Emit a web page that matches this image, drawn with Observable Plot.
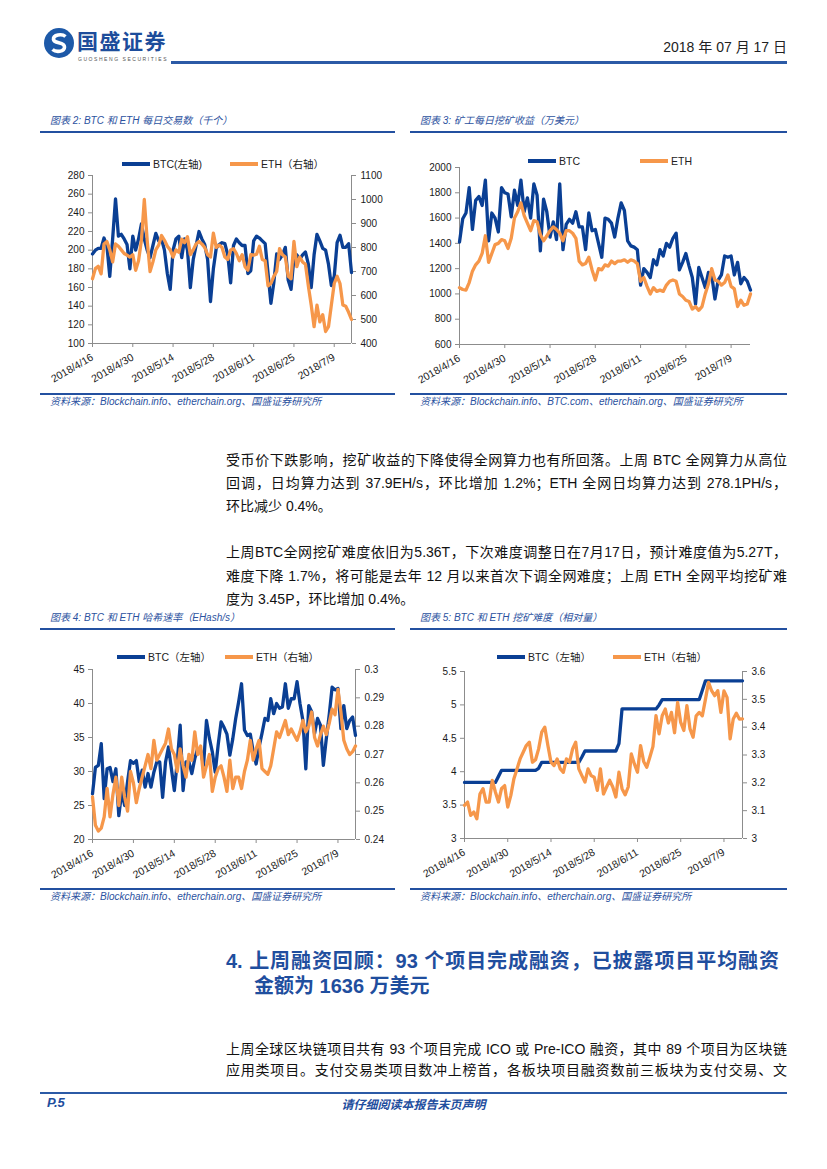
<!DOCTYPE html>
<html><head><meta charset="utf-8">
<script src="https://cdn.jsdelivr.net/npm/d3@7"></script>
<script src="https://cdn.jsdelivr.net/npm/@observablehq/plot@0.6"></script>
<style>
body{margin:0;background:#fff;}
#page{position:relative;width:827px;height:1169px;overflow:hidden;background:#fff;font-family:"Liberation Sans","Noto Sans CJK SC",sans-serif;}
.abs{position:absolute;white-space:nowrap;}
.title{position:absolute;font-style:italic;font-size:10px;line-height:12px;color:#2c52a0;white-space:nowrap;font-family:"Liberation Sans","Noto Sans CJK SC",sans-serif;}
.rule{position:absolute;background:#2350a0;}
.legend{position:absolute;font-size:10.5px;line-height:12px;color:#222;white-space:nowrap;display:flex;align-items:center;font-family:"Liberation Sans","Noto Sans CJK SC",sans-serif;}
.sw{display:inline-block;width:28px;height:3.5px;margin-right:3px;}
.ln{position:absolute;left:226px;width:561px;font-size:14px;line-height:23px;height:23px;color:#111;font-family:"Liberation Sans","Noto Sans CJK SC",sans-serif;}
.j{text-align:justify;text-align-last:justify;}
.hd{position:absolute;font-size:20px;line-height:25px;font-weight:700;color:#1f4e9e;white-space:nowrap;font-family:"Liberation Sans","Noto Sans CJK SC",sans-serif;}
</style></head>
<body><div id="page"></div>
<script>
// ---------- data ----------
const xTickLabels = ["2018/4/16","2018/4/30","2018/5/14","2018/5/28","2018/6/11","2018/6/25","2018/7/9"];

// Chart 2: daily transactions (thousand)
const btcTx = [196,200,202,202,213,205,172,212,255,215, 217,212,206,180,215,200,212,228,212,200, 192,205,218,210,212,200,175,158,200,212, 215,192,212,200,160,190,205,220,212,206, 190,145,180,202,206,208,207,195,165,205, 212,208,205,205,175,178,210,215,213,210, 207,175,143,165,196,190,195,203,168,158, 192,195,190,195,198,185,160,195,217,210, 202,200,185,162,172,208,216,203,203,207, 176];
const ethTx = [670,712,722,690,815,825,790,740,815,805, 790,775,768,760,770,705,745,830,1000,830, 700,740,790,810,850,830,805,790,760,790, 780,835,820,845,770,790,815,825,815,800, 770,760,860,800,810,800,760,750,790,795, 775,745,770,720,705,770,768,772,805,750, 745,640,650,680,700,795,770,760,680,670, 825,720,760,740,730,640,560,470,560,490, 520,450,470,560,650,680,650,560,555,530, 500];
const txLeftTicks = [100,120,140,160,180,200,220,240,260,280];
const txRightTicks = [400,500,600,700,800,900,1000,1100];

// Chart 3: daily mining revenue (10k USD)
const btcRev = [1410,1595,1640,1840,1510,1740,1770,1700,1900,1420, 1640,1600,1490,1840,1800,1790,1610,1820,1700,1900, 1650,1760,1600,1870,1780,1340,1750,1650,1450,1570, 1430,1870,1350,1550,1590,1560,1650,1530,1530,1350, 1640,1500,1510,1400,1290,1600,1590,1560,1450,1600, 1720,1660,1420,1380,1370,1350,1070,1200,1170,1130, 1270,1230,1350,1300,1400,1370,1440,1480,1190,1250, 1320,1220,1130,920,1210,1130,1050,1170,1150,960, 1110,1150,1300,1290,1300,1150,1250,1080,1130,1100, 1030];
const ethRev = [1050,1035,1030,1090,1180,1230,1260,1320,1460,1250, 1320,1390,1400,1430,1420,1360,1440,1600,1650,1720, 1620,1560,1500,1580,1570,1470,1420,1460,1500,1530, 1510,1480,1420,1500,1500,1480,1440,1260,1230,1240, 1290,1190,1110,1200,1190,1230,1220,1260,1240,1260, 1260,1270,1250,1270,1260,1240,1100,1130,1060,1000, 1050,1020,1030,1020,1070,1100,1110,1100,1000,980, 950,940,880,900,870,900,1000,1080,1200,1110, 1100,1070,1090,1150,1060,1040,900,950,910,920, 1000];
const revTicks = [600,800,1000,1200,1400,1600,1800,2000];

// Chart 4: hash rate
const btcHash = [26.7,30.6,30.9,34.1,26.0,30.4,30.6,28.5,30.4,23.5, 27.0,25.0,28.5,31.6,31.2,31.6,28.5,30.2,27.7,29.7, 27.7,29.9,31.4,31.4,26.2,31.4,33.6,30.4,27.2,31.4, 36.8,27.2,31.4,31.4,29.7,31.9,33.4,33.1,30.9,37.5, 34.9,32.9,29.9,33.9,37.3,36.5,35.5,32.4,34.8,37.8, 40.2,42.9,36.1,35.3,35.5,32.9,31.1,33.6,35.6,37.8, 37.5,40.7,38.5,40.0,39.3,39.5,42.9,39.3,40.7,40.7, 43.2,40.0,37.5,30.4,39.7,38.8,35.6,37.8,36.8,30.9, 34.8,38.3,42.4,42.0,42.2,36.3,39.7,36.3,37.5,38.0, 35.3];
const ethHash = [0.255,0.245,0.243,0.244,0.248,0.258,0.248,0.256,0.262,0.252, 0.262,0.255,0.250,0.264,0.260,0.253,0.258,0.262,0.266,0.270, 0.265,0.275,0.268,0.270,0.272,0.274,0.279,0.272,0.270,0.264, 0.272,0.266,0.262,0.270,0.268,0.278,0.270,0.273,0.262,0.266, 0.270,0.257,0.262,0.265,0.266,0.262,0.257,0.268,0.258,0.262, 0.262,0.258,0.264,0.268,0.275,0.268,0.272,0.275,0.265,0.264, 0.263,0.266,0.272,0.278,0.276,0.279,0.282,0.277,0.279,0.277, 0.275,0.278,0.282,0.278,0.280,0.285,0.276,0.273,0.277,0.280, 0.277,0.281,0.286,0.284,0.293,0.285,0.275,0.272,0.270,0.271, 0.273];
const hashLeftTicks = [20,25,30,35,40,45];
const hashRightTicks = [0.24,0.25,0.26,0.27,0.28,0.29,0.30];

// Chart 5: difficulty
const btcDiff = [3.84,3.84,3.84,3.84,3.84,3.84,3.84,3.84,3.84,3.84, 3.84,3.93,4.02,4.02,4.02,4.02,4.02,4.02,4.02,4.02, 4.02,4.02,4.02,4.02,4.05,4.14,4.14,4.14,4.14,4.14, 4.14,4.14,4.14,4.14,4.14,4.14,4.14,4.14,4.22,4.31, 4.31,4.31,4.31,4.31,4.31,4.31,4.31,4.31,4.31,4.31, 4.42,4.94,4.94,4.94,4.94,4.94,4.94,4.94,4.94,4.94, 4.94,4.94,4.94,5.00,5.08,5.08,5.08,5.08,5.08,5.08, 5.08,5.08,5.08,5.08,5.08,5.08,5.08,5.22,5.36,5.36, 5.36,5.36,5.36,5.36,5.36,5.36,5.36,5.36,5.36,5.36, 5.36];
const ethDiff = [3.119,3.131,3.083,3.095,3.071,3.160,3.179,3.131,3.131,3.209, 3.167,3.131,3.180,3.190,3.113,3.155,3.215,3.250,3.286,3.310, 3.334,3.346,3.274,3.283,3.322,3.382,3.400,3.334,3.274,3.262, 3.286,3.250,3.238,3.286,3.274,3.322,3.346,3.250,3.226,3.203, 3.250,3.226,3.220,3.173,3.250,3.160,3.185,3.209,3.185,3.149, 3.238,3.179,3.157,3.185,3.304,3.268,3.238,3.334,3.277,3.256, 3.292,3.330,3.441,3.376,3.441,3.465,3.415,3.453,3.380,3.489, 3.417,3.388,3.477,3.394,3.364,3.441,3.453,3.441,3.500,3.561, 3.531,3.513,3.531,3.453,3.530,3.507,3.358,3.429,3.450,3.429, 3.430];
const diffLeftTicks = [3,3.5,4,4.5,5,5.5];
const diffRightTicks = [3.0,3.1,3.2,3.3,3.4,3.5,3.6];

// ---------- page ----------
const BLUE = "#0a3f94", ORANGE = "#f6974a", AXIS = "#8c8c8c";
const page = document.getElementById("page");
function add(html){ page.insertAdjacentHTML("beforeend", html); }

// header
add(`<svg class="abs" style="left:43px;top:27px" width="32" height="32" viewBox="0 0 32 32">
<circle cx="16" cy="16" r="15" fill="#1d59a8"/>
<path d="M22.5 9.5 C19 6.5 10 7.5 10.5 12.5 C11 17 21.5 14.5 21.5 20 C21.5 25 13 25.5 9.5 22.5" fill="none" stroke="#fff" stroke-width="3.6"/>
</svg>`);
add(`<div class="abs" style="left:77px;top:28px;font-size:21px;line-height:24px;font-weight:700;color:#1d4d9b;font-family:'Noto Sans CJK SC';letter-spacing:1.5px">国盛证券</div>`);
add(`<div class="abs" style="left:78px;top:56px;font-size:5px;line-height:6px;color:#555;letter-spacing:1.55px">GUOSHENG SECURITIES</div>`);
add(`<div class="abs" style="right:40px;top:38px;font-size:14px;line-height:18px;color:#222;font-family:'Liberation Sans Narrow','Liberation Sans','Noto Sans CJK SC'">2018 年 07 月 17 日</div>`);
add(`<div class="rule" style="left:171px;top:61px;width:616px;height:2.5px;background:#2b5aa6"></div>`);

// chart frames: titles, rules, sources, legends
function frame(x, w, titleY, title, srcY, src){
  add(`<div class="title" style="left:${x+10}px;top:${titleY-6}px">${title}</div>`);
  add(`<div class="rule" style="left:${x}px;top:${titleY+10}px;width:${w}px;height:1.5px"></div>`);
  add(`<div class="rule" style="left:${x}px;top:${srcY-9}px;width:${w}px;height:1.5px"></div>`);
  add(`<div class="title" style="left:${x+10}px;top:${srcY-6}px">${src}</div>`);
}
function legend(y, items){
  for (const [x, color, label] of items)
    add(`<div class="legend" style="left:${x}px;top:${y-6}px"><span class="sw" style="background:${color}"></span>${label}</div>`);
}
const src1 = "资料来源：Blockchain.info、etherchain.org、国盛证券研究所";
frame(40, 355, 121, "图表 2: BTC 和 ETH 每日交易数（千个）", 402, src1);
frame(410, 377, 121, "图表 3: 矿工每日挖矿收益（万美元）", 402, "资料来源：Blockchain.info、BTC.com、etherchain.org、国盛证券研究所");
frame(40, 355, 618, "图表 4: BTC 和 ETH 哈希速率（EHash/s）", 897, src1);
frame(410, 377, 618, "图表 5: BTC 和 ETH 挖矿难度（相对量）", 897, src1);
legend(164, [[122, BLUE, "BTC(左轴)"], [230, ORANGE, "ETH（右轴）"]]);
legend(161, [[528, BLUE, "BTC"], [640, ORANGE, "ETH"]]);
legend(657, [[117, BLUE, "BTC（左轴）"], [225, ORANGE, "ETH（右轴）"]]);
legend(657, [[497, BLUE, "BTC（左轴）"], [613, ORANGE, "ETH（右轴）"]]);

// body text
const lines = [
  [449, true, "受币价下跌影响，挖矿收益的下降使得全网算力也有所回落。上周 BTC 全网算力从高位"],
  [472, true, "回调，日均算力达到 37.9EH/s，环比增加 1.2%；ETH 全网日均算力达到 278.1PH/s，"],
  [495, false, "环比减少 0.4%。"],
  [541, true, "上周BTC全网挖矿难度依旧为5.36T，下次难度调整日在7月17日，预计难度值为5.27T，"],
  [565, true, "难度下降 1.7%，将可能是去年 12 月以来首次下调全网难度；上周 ETH 全网平均挖矿难"],
  [588, false, "度为 3.45P，环比增加 0.4%。"],
  [1038, true, "上周全球区块链项目共有 93 个项目完成 ICO 或 Pre-ICO 融资，其中 89 个项目为区块链"],
  [1059, true, "应用类项目。支付交易类项目数冲上榜首，各板块项目融资数前三板块为支付交易、文"]
];
for (const [y, j, t] of lines) add(`<div class="ln${j ? " j" : ""}" style="top:${y}px">${t}</div>`);
add(`<div class="hd" style="left:226px;top:949px;width:553px;text-align:justify;text-align-last:justify">4. 上周融资回顾：93 个项目完成融资，已披露项目平均融资</div>`);
add(`<div class="hd" style="left:254px;top:974px">金额为 1636 万美元</div>`);

// footer
add(`<div class="rule" style="left:40px;top:1092px;width:747px;height:2px;background:#2b5aa6"></div>`);
add(`<div class="abs" style="left:47px;top:1095px;font-size:13px;line-height:16px;font-weight:700;font-style:italic;color:#1f4e9e">P.5</div>`);
add(`<div class="abs" style="left:0;width:827px;text-align:center;top:1096px;font-size:12px;line-height:15px;font-weight:700;font-style:italic;color:#1f4e9e;font-family:'Noto Sans CJK SC'">请仔细阅读本报告末页声明</div>`);

// ---------- charts ----------
const parseTick = s => { const [y, m, d] = s.split("/").map(Number); return new Date(Date.UTC(y, m - 1, d)); };
const xTicks = xTickLabels.map(parseTick);
const dates = btcTx.map((_, i) => new Date(xTicks[0].getTime() + i * 86400000));
const fmtDate = d => `${d.getUTCFullYear()}/${d.getUTCMonth() + 1}/${d.getUTCDate()}`;
const trim = (v, k) => String(Number(v.toFixed(k)));

function makeChart(c){
  const [y0, y1] = c.yDomain;
  const r = c.right;
  const toL = r ? v => y0 + (v - r.domain[0]) * (y1 - y0) / (r.domain[1] - r.domain[0]) : v => v;
  const fromL = r ? v => r.domain[0] + (v - y0) * (r.domain[1] - r.domain[0]) / (y1 - y0) : v => v;
  const rows = dates.map((d, i) => ({d, btc: c.btc[i], eth: toL(c.eth[i])}));
  const marks = [
    Plot.ruleY([y0], {stroke: AXIS}),
    Plot.ruleX([dates[0]], {stroke: AXIS}),
    Plot.axisY(c.yTicks, {anchor: "left", label: null, tickSize: 4, tickPadding: 4, tickFormat: c.yFmt, stroke: AXIS, fill: "#1a1a1a"}),
    Plot.axisX(xTicks, {anchor: "bottom", label: null, tickSize: 4, tickPadding: 9, tickRotate: -30, tickFormat: fmtDate, stroke: AXIS, fill: "#1a1a1a", fontSize: 10.5})
  ];
  if (r) {
    marks.push(Plot.ruleX([dates[dates.length - 1]], {stroke: AXIS}));
    marks.push(Plot.axisY(r.ticks.map(toL), {anchor: "right", label: null, tickSize: 4, tickPadding: 5, tickFormat: v => r.fmt(fromL(v)), stroke: AXIS, fill: "#1a1a1a"}));
  }
  marks.push(Plot.line(rows, {x: "d", y: "btc", stroke: BLUE, strokeWidth: 3.3}));
  marks.push(Plot.line(rows, {x: "d", y: "eth", stroke: ORANGE, strokeWidth: 3.3}));
  const svg = Plot.plot({
    width: c.width, height: c.height,
    marginLeft: c.mL, marginRight: c.mR, marginTop: c.mT, marginBottom: c.mB,
    x: {type: "utc", domain: [dates[0], dates[dates.length - 1]], label: null},
    y: {domain: c.yDomain, label: null},
    style: {fontFamily: "Liberation Sans, Arial, sans-serif", fontSize: "10px", color: "#1a1a1a", background: "transparent", overflow: "visible"},
    marks
  });
  svg.style.position = "absolute";
  svg.style.left = c.left + "px";
  svg.style.top = c.top + "px";
  page.appendChild(svg);
}

makeChart({left: 40, top: 163, width: 360, height: 225, mL: 52, mR: 49, mT: 12, mB: 45,
  yDomain: [100, 280], yTicks: txLeftTicks, yFmt: v => trim(v, 0),
  right: {domain: [400, 1100], ticks: txRightTicks, fmt: v => trim(v, 0)},
  btc: btcTx, eth: ethTx});
makeChart({left: 410, top: 155, width: 380, height: 234, mL: 49, mR: 40, mT: 12, mB: 45,
  yDomain: [600, 2000], yTicks: revTicks, yFmt: v => trim(v, 0), right: null,
  btc: btcRev, eth: ethRev});
makeChart({left: 40, top: 657, width: 360, height: 227, mL: 52, mR: 45, mT: 12, mB: 45,
  yDomain: [20, 45], yTicks: hashLeftTicks, yFmt: v => trim(v, 1),
  right: {domain: [0.24, 0.30], ticks: hashRightTicks, fmt: v => trim(v, 2)},
  btc: btcHash, eth: ethHash});
makeChart({left: 410, top: 659, width: 380, height: 224, mL: 54, mR: 48, mT: 12, mB: 45,
  yDomain: [3, 5.5], yTicks: diffLeftTicks, yFmt: v => trim(v, 1),
  right: {domain: [3.0, 3.6], ticks: diffRightTicks, fmt: v => trim(v, 1)},
  btc: btcDiff, eth: ethDiff});
</script>
</body></html>
